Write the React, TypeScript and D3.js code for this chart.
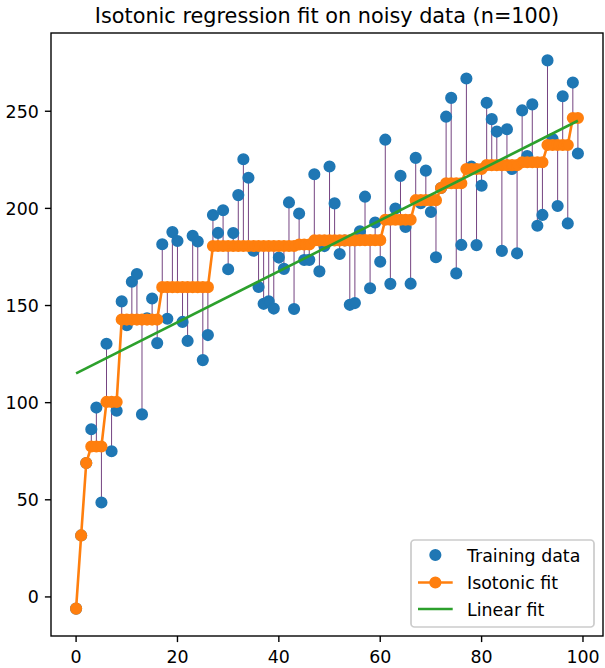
import React from "react";
import * as d3 from "d3";

// x positions (sample index)
const xValues = [
  0, 1, 2, 3, 4, 5, 6, 7, 8, 9, 10, 11, 12, 13, 14, 15, 16, 17, 18, 19,
  20, 21, 22, 23, 24, 25, 26, 27, 28, 29, 30, 31, 32, 33, 34, 35, 36, 37, 38, 39,
  40, 41, 42, 43, 44, 45, 46, 47, 48, 49, 50, 51, 52, 53, 54, 55, 56, 57, 58, 59,
  60, 61, 62, 63, 64, 65, 66, 67, 68, 69, 70, 71, 72, 73, 74, 75, 76, 77, 78, 79,
  80, 81, 82, 83, 84, 85, 86, 87, 88, 89, 90, 91, 92, 93, 94, 95, 96, 97, 98, 99,
];

// Training data (noisy)
const trainingY = [
  -6.0, 31.66, 68.93, 86.31, 97.47, 48.59, 130.3, 74.97, 95.86, 152.13,
  139.9, 162.25, 166.25, 93.95, 143.4, 153.63, 130.66, 181.52, 143.22, 187.79,
  183.23, 141.55, 131.78, 185.9, 182.94, 121.91, 134.79, 196.61, 187.37, 199.06,
  168.7, 187.29, 206.83, 225.32, 215.77, 178.18, 159.55, 150.88, 152.18, 148.44,
  174.68, 168.88, 203.06, 148.21, 197.33, 173.43, 173.51, 217.56, 167.59, 180.6,
  221.59, 202.56, 176.52, 183.45, 150.37, 151.27, 188.15, 206.02, 158.88, 192.72,
  172.54, 235.36, 161.16, 199.94, 216.72, 190.48, 161.24, 225.98, 202.71, 219.43,
  198.13, 174.83, 210.52, 247.2, 256.87, 166.54, 181.19, 266.84, 221.47, 181.1,
  211.72, 254.34, 245.94, 239.54, 178.13, 240.72, 220.3, 176.87, 250.43, 226.99,
  253.54, 191.09, 196.63, 276.17, 235.69, 201.22, 257.74, 192.25, 264.76, 228.26,
];

// Isotonic fit
const isotonicY = [
  -6.0, 31.66, 68.93, 77.46, 77.46, 77.46, 100.38, 100.38, 100.38, 142.77,
  142.77, 142.77, 142.77, 142.77, 142.77, 142.77, 142.77, 159.46, 159.46, 159.46,
  159.46, 159.46, 159.46, 159.46, 159.46, 159.46, 159.46, 180.65, 180.65, 180.65,
  180.65, 180.65, 180.65, 180.65, 180.65, 180.65, 180.65, 180.65, 180.65, 180.65,
  180.65, 180.65, 180.65, 180.65, 181.42, 181.42, 181.42, 183.5, 183.5, 183.5,
  183.5, 183.5, 183.5, 183.5, 183.5, 183.5, 183.66, 183.66, 183.66, 183.66,
  183.66, 194.15, 194.15, 194.15, 194.15, 194.15, 194.15, 204.22, 204.22, 204.22,
  204.22, 204.22, 210.52, 212.95, 212.95, 212.95, 212.95, 220.28, 220.28, 220.28,
  220.28, 222.26, 222.26, 222.26, 222.26, 222.26, 222.26, 222.26, 223.74, 223.74,
  223.74, 223.74, 223.74, 232.61, 232.61, 232.61, 232.61, 232.61, 246.51, 246.51,
];

// Linear fit end points
const linearX = [0, 99];
const linearY = [115.08, 245.12];

const xTicks = [0, 20, 40, 60, 80, 100];
const yTicks = [0, 50, 100, 150, 200, 250];
const legendLabels = ["Training data", "Isotonic fit", "Linear fit"];
const title = "Isotonic regression fit on noisy data (n=100)";

const W = 605;
const H = 668;
const AX = { left: 51, right: 603, top: 33, bottom: 636 };
const FONT = "DejaVu Sans, sans-serif";
const C0 = "#1f77b4";
const C1 = "#ff7f0e";
const C2 = "#2ca02c";

export default function App() {
  const x = d3.scaleLinear().domain([-4.95, 103.95]).range([AX.left, AX.right]);
  const y = d3.scaleLinear().domain([-20.11, 290.28]).range([AX.bottom, AX.top]);

  const isoLine = d3
    .line<number>()
    .x((_, i) => x(xValues[i]))
    .y((d) => y(d))(isotonicY) as string;
  const linLine = d3
    .line<number>()
    .x((_, i) => x(linearX[i]))
    .y((d) => y(d))(linearY) as string;

  const tickLen = 6.1;
  const fs = 17.4;

  const legend = { x: 411, y: 540, w: 183, h: 87 };
  const rowY = [555, 582.5, 609];
  const textY = [561.5, 589, 615.5];
  const hx0 = 418;
  const hx1 = 452.7;
  const hxc = (hx0 + hx1) / 2;
  const tx = 467;

  return (
    <svg
      width={W}
      height={H}
      style={{ position: "absolute", left: 0, top: 0, background: "#fff" }}
      fontFamily={FONT}
    >
      <rect x={0} y={0} width={W} height={H} fill="#fff" />
      <defs>
        <clipPath id="axclip">
          <rect x={AX.left} y={AX.top} width={AX.right - AX.left} height={AX.bottom - AX.top} />
        </clipPath>
      </defs>
      <g clipPath="url(#axclip)">
        {/* residual segments */}
        {xValues.map((xv, i) => (
          <line
            key={"seg" + i}
            x1={x(xv)}
            x2={x(xv)}
            y1={y(trainingY[i])}
            y2={y(isotonicY[i])}
            stroke="#440154"
            strokeWidth={0.87}
            strokeOpacity={0.85}
          />
        ))}
        {/* training points */}
        {xValues.map((xv, i) => (
          <circle key={"pt" + i} cx={x(xv)} cy={y(trainingY[i])} r={5.2} fill={C0} stroke={C0} strokeWidth={1.74} />
        ))}
        {/* isotonic fit */}
        <path d={isoLine} fill="none" stroke={C1} strokeWidth={2.6} strokeLinejoin="round" strokeLinecap="butt" />
        {xValues.map((xv, i) => (
          <circle key={"iso" + i} cx={x(xv)} cy={y(isotonicY[i])} r={5.2} fill={C1} stroke={C1} strokeWidth={1.74} />
        ))}
        {/* linear fit */}
        <path d={linLine} fill="none" stroke={C2} strokeWidth={2.6} strokeLinecap="butt" />
      </g>

      {/* spines */}
      <rect
        x={AX.left}
        y={AX.top}
        width={AX.right - AX.left}
        height={AX.bottom - AX.top}
        fill="none"
        stroke="#000"
        strokeWidth={1.39}
      />

      {/* x ticks */}
      {xTicks.map((t) => (
        <g key={"xt" + t}>
          <line x1={x(t)} x2={x(t)} y1={AX.bottom} y2={AX.bottom + tickLen} stroke="#000" strokeWidth={1.39} />
          <text x={x(t)} y={662.5} fontSize={fs} textAnchor="middle" fill="#000">
            {t}
          </text>
        </g>
      ))}
      {/* y ticks */}
      {yTicks.map((t) => (
        <g key={"yt" + t}>
          <line x1={AX.left - tickLen} x2={AX.left} y1={y(t)} y2={y(t)} stroke="#000" strokeWidth={1.39} />
          <text x={AX.left - 2 * tickLen} y={y(t) + 6.3} fontSize={fs} textAnchor="end" fill="#000">
            {t}
          </text>
        </g>
      ))}

      {/* title */}
      <text x={(AX.left + AX.right) / 2} y={22.6} fontSize={20.8} textAnchor="middle" fill="#000">
        {title}
      </text>

      {/* legend */}
      <rect
        x={legend.x}
        y={legend.y}
        width={legend.w}
        height={legend.h}
        rx={3.5}
        ry={3.5}
        fill="#fff"
        fillOpacity={0.8}
        stroke="#cccccc"
        strokeWidth={1.74}
      />
      <circle cx={hxc} cy={rowY[0]} r={5.2} fill={C0} stroke={C0} strokeWidth={1.74} />
      <line x1={hx0} x2={hx1} y1={rowY[1]} y2={rowY[1]} stroke={C1} strokeWidth={2.6} />
      <circle cx={hxc} cy={rowY[1]} r={5.2} fill={C1} stroke={C1} strokeWidth={1.74} />
      <line x1={hx0} x2={hx1} y1={rowY[2]} y2={rowY[2]} stroke={C2} strokeWidth={2.6} />
      {legendLabels.map((l, i) => (
        <text key={l} x={tx} y={textY[i]} fontSize={fs} fill="#000">
          {l}
        </text>
      ))}
    </svg>
  );
}
